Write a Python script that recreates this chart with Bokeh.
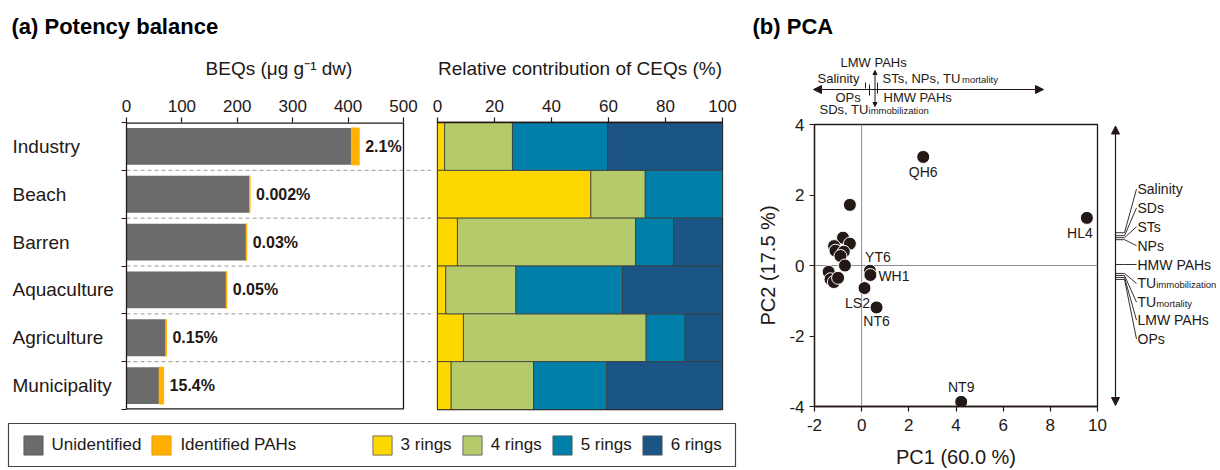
from bokeh.plotting import figure
from bokeh.layouts import row, column
from bokeh.models import (Range1d, FixedTicker, Arrow, NormalHead,
                          Legend, LegendItem, ColumnDataSource, Span)
from bokeh.embed import file_html
from bokeh.resources import INLINE
from bokeh.core.properties import value

FONT = "Liberation Sans"
INK = "#231815"

# ---------------- data ----------------
categories = ["Industry", "Beach", "Barren", "Aquaculture", "Agriculture", "Municipality"]
beq_unidentified = [406, 222, 216, 180, 71, 59]
beq_identified = [14, 1, 1, 1, 1, 8]
identified_share = ["2.1%", "0.002%", "0.03%", "0.05%", "0.15%", "15.4%"]
beq_ticks = [0, 100, 200, 300, 400, 500]

ring_labels = ["3 rings", "4 rings", "5 rings", "6 rings"]
ring3 = [2.5, 53.8, 7.0, 2.9, 9.1, 4.8]
ring4 = [23.8, 19.1, 62.5, 24.6, 64.1, 28.9]
ring5 = [33.4, 27.1, 13.3, 37.4, 13.7, 25.7]
ring6 = [40.3, 0.0, 17.2, 35.1, 13.1, 40.6]
ceq_ticks = [0, 20, 40, 60, 80, 100]

site_names = ["", "", "", "", "", "", "", "", "", "", "", "",
              "YT6", "WH1", "LS2", "NT6", "QH6", "HL4", "NT9"]
pc1 = [-0.50, -0.79, -0.50, -1.17, -1.11, -0.76, -0.90, -0.71, -1.40, -1.32, -1.18, -1.00,
       0.35, 0.37, 0.12, 0.63, 2.61, 9.55, 4.22]
pc2 = [1.72, 0.79, 0.62, 0.55, 0.42, 0.39, 0.27, 0.00, -0.18, -0.39, -0.47, -0.35,
       -0.15, -0.27, -0.64, -1.19, 3.08, 1.35, -3.87]
pc1_ticks = [-2, 0, 2, 4, 6, 8, 10]
pc2_ticks = [-4, -2, 0, 2, 4]

# loading strips (variable names as printed)
pc1_loading_main = ["LMW PAHs", "Salinity", "STs, NPs, TU", "OPs", "HMW PAHs", "SDs, TU"]
pc1_loading_sub = ["", "", "mortality", "", "", "immobilization"]
pc2_loading_main = ["Salinity", "SDs", "STs", "NPs", "HMW PAHs", "TU", "TU", "LMW PAHs", "OPs"]
pc2_loading_sub = ["", "", "", "", "", "immobilization", "mortality", "", ""]

# colours
C_GRAY = "#6B6B6B"
C_ORANGE = "#FFB000"
RING_COLORS = ["#FFD700", "#B5CB6B", "#0080A8", "#1B5586"]


def style_axis(a, size="17px"):
    a.axis_line_color = INK
    a.axis_line_width = 1.3
    a.major_tick_line_color = INK
    a.major_tick_line_width = 1.2
    a.minor_tick_line_color = None
    a.major_tick_out = 5
    a.major_tick_in = 0
    a.major_label_text_font = FONT
    a.major_label_text_font_size = size
    a.major_label_text_color = INK
    a.axis_label_text_font = FONT
    a.axis_label_text_font_style = "normal"
    a.axis_label_text_color = INK


def bare(p):
    p.xgrid.visible = False
    p.ygrid.visible = False
    p.outline_line_color = None


ypos = [i + 0.5 for i in range(len(categories))]
COMMON = dict(title=None, output_backend="svg", toolbar_location=None)

# ---------------- title strip (a) ----------------
ta = figure(width=740, height=45, x_range=Range1d(8, 735), y_range=Range1d(45, 0),
            x_axis_location=None, y_axis_location=None,
            min_border_left=8, min_border_right=5, min_border_top=0, min_border_bottom=0,
            **COMMON)
bare(ta)
ta.text(x=[11], y=[26], text=["(a) Potency balance"], text_baseline="middle",
        text_font=value(FONT), text_font_style="bold", text_font_size="22px",
        text_color="black")

# ---------------- category names ----------------
pk = figure(width=120, height=371, x_range=Range1d(0, 120), y_range=Range1d(6, 0),
            x_axis_location=None, y_axis_location=None,
            min_border_left=0, min_border_right=0, min_border_top=77, min_border_bottom=7,
            **COMMON)
bare(pk)
pk.text(x=[12] * len(categories), y=ypos, text=categories, text_baseline="middle",
        text_font=value(FONT), text_font_size="19px", text_color=INK)

# ---------------- (a) left: BEQs ----------------
XA_END = 500 * (431 - 126) / 277.0   # frame continues through the gap (dashed guides)
pa = figure(width=311, height=371, x_range=Range1d(0, XA_END), y_range=Range1d(6, 0),
            x_axis_location="above", min_border_left=6, min_border_right=0,
            min_border_top=77, min_border_bottom=7, **COMMON)
bare(pa)
xa = pa.xaxis[0]
style_axis(xa)
xa.axis_line_color = None
xa.ticker = FixedTicker(ticks=beq_ticks)
xa.axis_label = "BEQs (\u03bcg g\u207b\u00b9 dw)"
xa.axis_label_text_font_size = "19px"
xa.major_label_standoff = 6
xa.axis_label_standoff = 18
ya = pa.yaxis[0]
style_axis(ya)
ya.ticker = FixedTicker(ticks=[], minor_ticks=list(range(len(categories) + 1)))
ya.minor_tick_line_color = INK
ya.minor_tick_line_width = 1.2
ya.minor_tick_out = 5
ya.minor_tick_in = 0

totals = [u + i for u, i in zip(beq_unidentified, beq_identified)]
n = len(categories)
pa.segment(x0=[0] * (n - 1), y0=list(range(1, n)), x1=[XA_END] * (n - 1), y1=list(range(1, n)),
           line_color="#9a9a9a", line_width=1, line_dash="4 3")
pa.hbar(y=ypos, left=0, right=beq_unidentified, height=0.77,
        fill_color=C_GRAY, line_color=None)
pa.hbar(y=ypos, left=beq_unidentified, right=totals, height=0.77,
        fill_color=C_ORANGE, line_color=C_ORANGE, line_width=1)
pa.text(x=totals, y=ypos, text=identified_share, x_offset=6, text_baseline="middle",
        text_font=value(FONT), text_font_style="bold", text_font_size="16px",
        text_color=INK)
# plot box (top/bottom/right edges; left edge is the y axis line)
pa.segment(x0=[0, 0, beq_ticks[-1]], y0=[0, n, 0], x1=[beq_ticks[-1], beq_ticks[-1], beq_ticks[-1]],
           y1=[0, n, n], line_color=INK, line_width=[2.6, 2.6, 1.3])

# ---------------- (a) right: CEQ composition ----------------
pb = figure(width=309, height=371, x_range=Range1d(0, 100), y_range=Range1d(6, 0),
            x_axis_location="above", y_axis_location=None,
            min_border_left=6, min_border_right=18, min_border_top=77,
            min_border_bottom=7, **COMMON)
bare(pb)
pb.outline_line_color = INK
pb.outline_line_width = 1.3
xb = pb.xaxis[0]
style_axis(xb)
xb.ticker = FixedTicker(ticks=ceq_ticks)
xb.axis_label = "Relative contribution of CEQs (%)"
xb.axis_label_text_font_size = "19px"
xb.major_label_standoff = 6
xb.axis_label_standoff = 18
src_b = ColumnDataSource(dict(y=ypos, r3=ring3, r4=ring4, r5=ring5, r6=ring6))
pb.hbar_stack(["r3", "r4", "r5", "r6"], y="y", height=1.0, source=src_b,
              fill_color=RING_COLORS, line_color="#3a3a3a", line_width=0.8)

# ---------------- legend strip ----------------
pl = figure(width=740, height=54, x_range=Range1d(0, 1), y_range=Range1d(0, 1),
            x_axis_location=None, y_axis_location=None,
            min_border_left=8, min_border_right=5, min_border_top=7, min_border_bottom=4,
            **COMMON)
bare(pl)
pl.outline_line_color = "#444444"
pl.outline_line_width = 1.2
off = dict(x=[-9], y=[-9], width=0.1, height=0.1, line_width=0.8)
lr_gray = pl.rect(fill_color=C_GRAY, line_color="#555555", **off)
lr_orange = pl.rect(fill_color=C_ORANGE, line_color="#d99500", **off)
ring_r = [pl.rect(fill_color=c, line_color="#555555", **off) for c in RING_COLORS]


def mk_legend(items, loc):
    return Legend(items=items, orientation="horizontal", location=loc,
                  glyph_width=24, glyph_height=24, label_standoff=7, spacing=8,
                  padding=0, margin=0, border_line_color=None, background_fill_alpha=0,
                  label_text_font=FONT, label_text_font_size="17px", label_text_color=INK,
                  label_height=24)


pl.add_layout(mk_legend([LegendItem(label="Unidentified", renderers=[lr_gray]),
                         LegendItem(label="Identified PAHs", renderers=[lr_orange])],
                        (12.6, 9.5)), "center")
pl.add_layout(mk_legend([LegendItem(label=lab, renderers=[r]) for lab, r in zip(ring_labels, ring_r)],
                        (361.6, 9.5)), "center")

# ---------------- (b) strip above PCA (global pixel coordinates) ----------------
TB_H = 115
tb = figure(width=480, height=TB_H, x_range=Range1d(740, 1220), y_range=Range1d(TB_H, 0),
            x_axis_location=None, y_axis_location=None, min_border=0, **COMMON)
bare(tb)
tb.text(x=[752], y=[26], text=["(b) PCA"], text_baseline="middle",
        text_font=value(FONT), text_font_style="bold", text_font_size="22px",
        text_color="black")
HEAD = dict(fill_color=INK, line_color=INK)
tb.add_layout(Arrow(start=NormalHead(size=8, **HEAD), end=NormalHead(size=8, **HEAD),
                    x_start=813, y_start=89, x_end=1043, y_end=89,
                    line_color=INK, line_width=1.2))
tb.segment(x0=[865, 869, 877], y0=[82, 84, 82], x1=[865, 869, 877], y1=[88, 95, 93],
           line_color=INK, line_width=1)
tb.add_layout(Arrow(start=NormalHead(size=4, **HEAD), end=NormalHead(size=4, **HEAD),
                    x_start=874.5, y_start=70, x_end=874.5, y_end=106,
                    line_color=INK, line_width=1))
t1_x = [840, 817, 882, 835, 883, 819]
t1_y = [62, 77.5, 77.5, 96.5, 96.5, 108.5]
t1_subw = [0, 0, 79.5, 0, 0, 49.1]
tb.text(x=t1_x, y=t1_y, text=pc1_loading_main, text_baseline="middle",
        text_font=value(FONT), text_font_size="13px", text_color=INK)
tb.text(x=t1_x, y=[v + 1.2 for v in t1_y], text=pc1_loading_sub, x_offset=t1_subw,
        text_baseline="middle", text_font=value(FONT), text_font_size="9.5px",
        text_color=INK)

# ---------------- (b) PCA ----------------
PC_TOP = 124 - TB_H
pc = figure(width=370, height=470 - TB_H, x_range=Range1d(-2, 10), y_range=Range1d(-4, 4),
            min_border_left=74, min_border_right=13, min_border_top=PC_TOP,
            min_border_bottom=62, **COMMON)
bare(pc)
pc.outline_line_color = INK
pc.outline_line_width = 1.3
style_axis(pc.xaxis[0])
style_axis(pc.yaxis[0])
pc.xaxis[0].ticker = FixedTicker(ticks=pc1_ticks)
pc.yaxis[0].ticker = FixedTicker(ticks=pc2_ticks)
pc.xaxis[0].major_label_overrides = {t: str(t) for t in pc1_ticks}
pc.yaxis[0].major_label_overrides = {t: str(t) for t in pc2_ticks}
pc.xaxis[0].axis_label = "PC1 (60.0 %)"
pc.yaxis[0].axis_label = "PC2 (17.5 %)"
pc.xaxis[0].axis_label_text_font_size = "20px"
pc.yaxis[0].axis_label_text_font_size = "20px"
pc.xaxis[0].major_label_standoff = 7
pc.yaxis[0].major_label_standoff = 5
pc.xaxis[0].axis_label_standoff = 12
pc.yaxis[0].axis_label_standoff = 7
pc.add_layout(Span(location=0, dimension="height", line_color="#8c8c8c", line_width=1, level="underlay"))
pc.add_layout(Span(location=0, dimension="width", line_color="#8c8c8c", line_width=1, level="underlay"))
pc.scatter(pc1, pc2, size=13, fill_color=INK, line_color="white", line_width=1)

# site labels (offsets in px: right, down)
lab_dx = {"QH6": 0, "HL4": -7, "NT9": 0, "NT6": 0, "LS2": -7, "WH1": 8, "YT6": 8}
lab_dy = {"QH6": 15, "HL4": 15, "NT9": -15, "NT6": 14, "LS2": 15, "WH1": 1, "YT6": -14}
lab_al = {"WH1": "left"}
lx, ly, lt, la = [], [], [], []
for nm, x, y in zip(site_names, pc1, pc2):
    if nm:
        lx.append(x + lab_dx[nm] * 12 / 283)
        ly.append(y - lab_dy[nm] * 8 / 284)
        lt.append(nm)
        la.append(lab_al.get(nm, "center"))
pc.text(x=lx, y=ly, text=lt, text_align=la, text_baseline="middle",
        text_font=value(FONT), text_font_size="14px", text_color=INK)

# ---------------- strip right of PCA (global pixel coordinates) ----------------
rs = figure(width=110, height=470 - TB_H, x_range=Range1d(1110, 1220), y_range=Range1d(408, 124),
            x_axis_location=None, y_axis_location=None,
            min_border_left=0, min_border_right=0, min_border_top=PC_TOP, min_border_bottom=62,
            **COMMON)
bare(rs)
rs.add_layout(Arrow(start=NormalHead(size=8, **HEAD), end=NormalHead(size=8, **HEAD),
                    x_start=1115, y_start=125.5, x_end=1115, y_end=407,
                    line_color=INK, line_width=1.2))
origin_y = [233, 236, 238, 240, 265, 274, 276, 278, 280]
label_y = [189, 208, 227, 246, 265, 284, 303, 321, 340]
m = len(origin_y)
rs.segment(x0=[1115] * m, y0=origin_y, x1=[1124] * m, y1=origin_y, line_color=INK, line_width=0.9)
rs.segment(x0=[1124] * m, y0=origin_y, x1=[1136] * m, y1=label_y, line_color=INK, line_width=0.9)
rs.text(x=[1137] * m, y=label_y, text=pc2_loading_main,
        text_baseline="middle", text_font=value(FONT), text_font_size="14px",
        text_color=INK)
rs.text(x=[1137] * m, y=[v + 1.5 for v in label_y], text=pc2_loading_sub, x_offset=18.7,
        text_baseline="middle", text_font=value(FONT), text_font_size="9.5px",
        text_color=INK)

left = column(ta, row(pk, pa, pb), pl)
right = column(tb, row(pc, rs))
layout = row(left, right)
open("out.html", "w").write(file_html(layout, INLINE))
